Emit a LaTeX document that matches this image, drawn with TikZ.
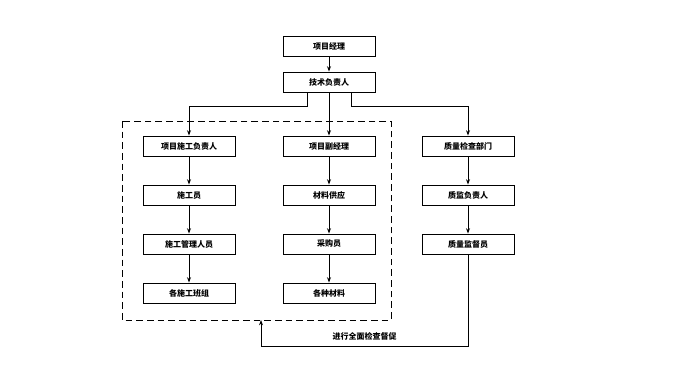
\documentclass[tikz,border=0pt]{standalone}
\usepackage{fontspec}
\newfontfamily\cjk{Noto Sans CJK SC}
\usepackage{tikz}
\usetikzlibrary{arrows.meta,positioning,calc}
\tikzset{
  box/.style={draw,line width=0.7pt,fill=white,minimum width=69pt,minimum height=15pt,inner sep=1pt,font=\cjk\bfseries\fontsize{6}{7}\selectfont},
  arr/.style={-{Stealth[length=4pt,width=3pt]},line width=0.7pt},
  grp/.style={draw,dash pattern=on 5pt off 3pt,line width=0.7pt},
  lbl/.style={font=\cjk\bfseries\fontsize{6}{7}\selectfont},
}

\begin{document}
\begin{tikzpicture}[x=0.75pt,y=-0.75pt]
 \useasboundingbox (0,0) rectangle (700,370);
 \node[box] (pm) at (329,46){项目经理};
 \node[box] (tech) at (329,82){技术负责人};
 % left column
 \node[box] (lead) at (189,146){项目施工负责人};
 \node[box] (crew) at (189,195){施工员};
 \node[box] (mgmt) at (189,244){施工管理人员};
 \node[box] (team) at (189,293){各施工班组};
 % middle column
 \node[box] (vice) at (329,146){项目副经理};
 \node[box] (supply) at (329,195){材料供应};
 \node[box] (buyer) at (329,244){采购员};
 \node[box] (mat) at (329,293){各种材料};
 % right column
 \node[box] (qdep) at (468,146){质量检查部门};
 \node[box] (qhead) at (468,195){质监负责人};
 \node[box] (qsup) at (468,244){质量监督员};
 \draw[grp] (122,121) rectangle (391,320);
 \coordinate (sl) at (307,106); \coordinate (sr) at (351,106); \coordinate (back) at (261,320);
 \draw[arr](pm)--(tech);
 \draw[arr](tech.south-|sl)--(sl)-|(lead.north);
 \draw[arr](tech)--(vice);
 \draw[arr](tech.south-|sr)--(sr)-|(qdep.north);
 \foreach \a/\b in {lead/crew,crew/mgmt,mgmt/team,vice/supply,supply/buyer,buyer/mat,qdep/qhead,qhead/qsup}
  \draw[arr](\a)--(\b);
 \draw[arr](qsup.south)--++(0,92)-|node[lbl,pos=0.25,above=1pt]{进行全面检查督促}(back);
\end{tikzpicture}
\end{document}
